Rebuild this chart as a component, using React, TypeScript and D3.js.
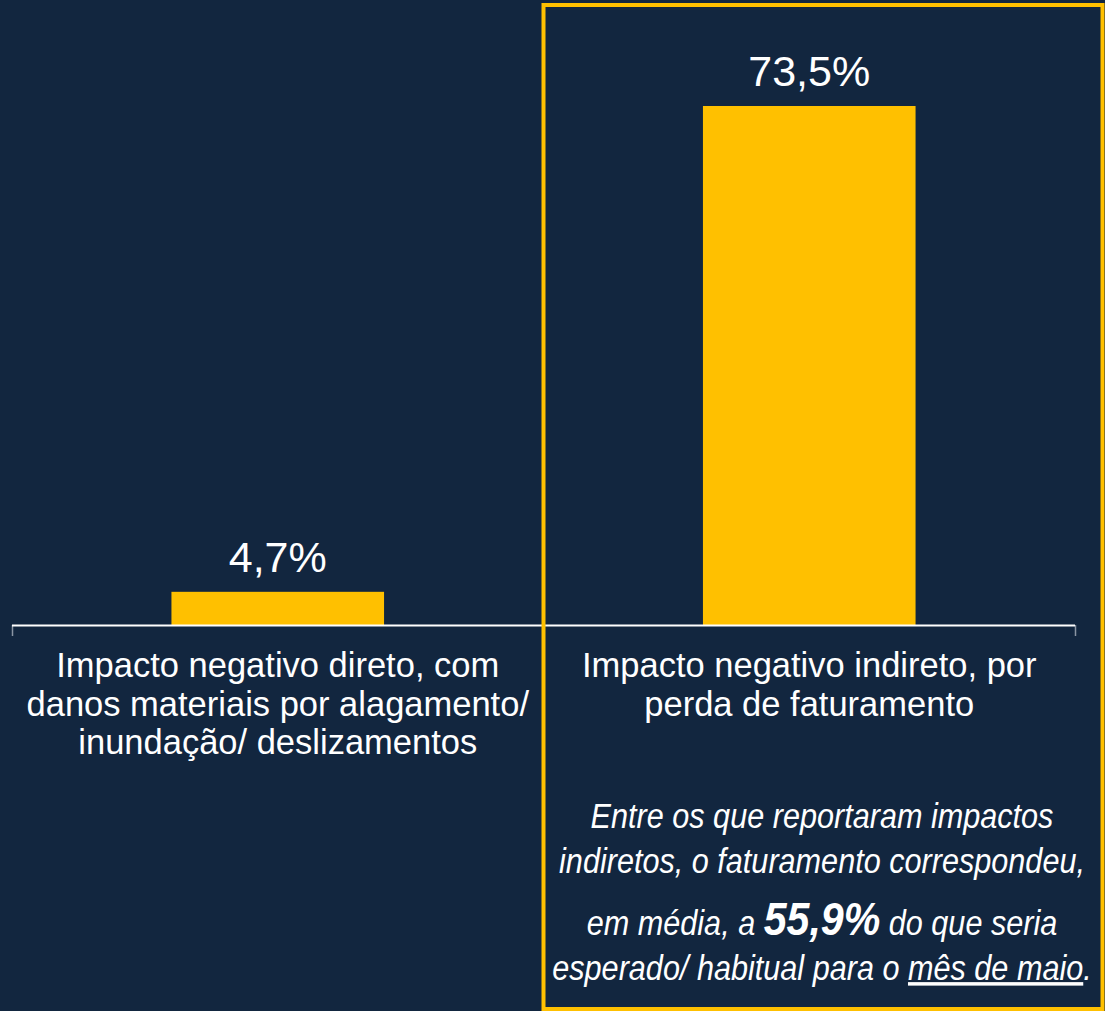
import React from 'react'
import * as d3 from 'd3'

const categories = ['direto', 'indireto']
const values = [4.7, 73.5]
const valueLabels = ['4,7%', '73,5%']
const categoryLines = [
  ['Impacto negativo direto, com', 'danos materiais por alagamento/', 'inundação/ deslizamentos'],
  ['Impacto negativo indireto, por', 'perda de faturamento'],
]

const W = 1105
const H = 1011
const BG = '#12263f'
const GOLD = '#ffc000'
const SANS = '"Liberation Sans", Arial, sans-serif'

export default function App() {
  const x = d3.scaleBand().domain(categories).range([12, 1075]).padding(0)
  const y = d3.scaleLinear().domain([0, 80]).range([625, 60.1])
  const barW = x.bandwidth() * 0.4
  const bounds = [...categories.map(c => x(c)), x.range()[1]]

  return (
    <svg width={W} height={H} style={{ display: 'block', position: 'absolute', left: 0, top: 0 }}>
      <rect width={W} height={H} fill={BG} />

      {categories.map((c, i) => {
        const cx = x(c) + x.bandwidth() / 2
        return (
          <g key={c}>
            <rect x={cx - barW / 2} y={y(values[i])} width={barW} height={y(0) - y(values[i])} fill={GOLD} />
            <text x={cx} y={y(values[i]) - 20} textAnchor='middle' fill='#fff' fontFamily={SANS} fontSize={43}>
              {valueLabels[i]}
            </text>
            {categoryLines[i].map((line, j) => (
              <text key={j} x={cx} y={677 + j * 38.7} textAnchor='middle' fill='#fff' fontFamily={SANS} fontSize={34.5}>
                {line}
              </text>
            ))}
          </g>
        )
      })}

      {/* axis */}
      {bounds.map((b, i) => (
        <line key={i} x1={b + 0.5} x2={b + 0.5} y1={625} y2={636} stroke='#8a94a3' strokeWidth={1.5} />
      ))}
      <line x1={12} x2={1075} y1={625.5} y2={625.5} stroke='#fff' strokeWidth={2} />

      {/* note, narrow italic */}
      <g transform='translate(822,0) scale(0.875,1)' fill='#fff' fontFamily={SANS} fontStyle='italic' fontSize={35} textAnchor='middle'>
        <text x={0} y={828}>Entre os que reportaram impactos</text>
        <text x={0} y={873}>indiretos, o faturamento correspondeu,</text>
        <text x={0} y={935}>
          em média, a <tspan fontWeight='bold' fontSize={47}>55,9%</tspan> do que seria
        </text>
        <text x={0} y={980}>
          esperado/ habitual para o <tspan textDecoration='underline'>mês de maio</tspan>.
        </text>
      </g>

      <rect x={543.5} y={5} width={559} height={1004} fill='none' stroke={GOLD} strokeWidth={4} />
    </svg>
  )
}
